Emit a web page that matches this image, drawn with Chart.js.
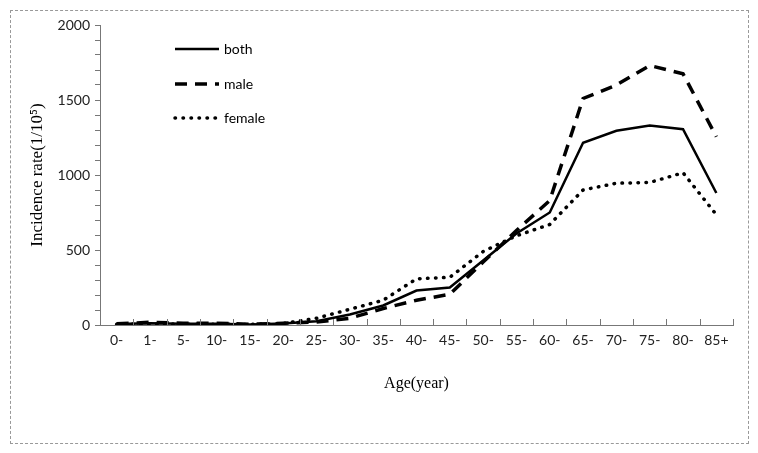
<!DOCTYPE html>
<html>
<head>
<meta charset="utf-8">
<script src="https://cdn.jsdelivr.net/npm/chart.js@4.4.1/dist/chart.umd.min.js"></script>
<style>
  body { margin: 0; background: #fff; }
  #frame { position: absolute; left: 10px; top: 10px; width: 737px; height: 432px; border: 1px dashed #999; }
  #wrap { position: absolute; left: 0; top: 0; width: 758px; height: 453px; }
</style>
</head>
<body>
<div id="frame"></div>
<div id="wrap"><canvas id="myChart" width="758" height="453"></canvas></div>
<script>
// age groups along the x axis
const ageGroups = ['0-', '1-', '5-', '10-', '15-', '20-', '25-', '30-', '35-', '40-', '45-', '50-', '55-', '60-', '65-', '70-', '75-', '80-', '85+'];

// incidence rate per 100 000
const bothRates = [6, 12, 8, 8, 4, 10, 25, 70, 130, 230, 250, 430, 610, 750, 1215, 1295, 1330, 1305, 880];
const maleRates = [8, 18, 12, 12, 5, 12, 20, 45, 110, 165, 205, 420, 630, 830, 1510, 1600, 1730, 1675, 1255];
const femaleRates = [5, 8, 5, 5, 4, 10, 45, 105, 165, 308, 318, 490, 595, 670, 900, 945, 950, 1015, 735];

const seriesNames = ['both', 'male', 'female'];

const tickFont = { family: 'Lato, "Liberation Sans", sans-serif', size: 14 };
const serif = '"Liberation Serif", "Times New Roman", serif';

// x ticks point up into the plot, at the category boundaries
const innerTicks = {
  id: 'innerTicks',
  afterDraw(chart) {
    const x = chart.scales.x;
    const ctx = chart.ctx;
    const step = x.getPixelForValue(1) - x.getPixelForValue(0);
    ctx.save();
    ctx.strokeStyle = '#777';
    ctx.lineWidth = 1;
    for (let i = 1; i <= ageGroups.length; i++) {
      const px = Math.round(x.getPixelForValue(0) - step / 2 + i * step) + 0.5;
      ctx.beginPath();
      ctx.moveTo(px, x.top);
      ctx.lineTo(px, x.top - 6);
      ctx.stroke();
    }
    ctx.restore();
  }
};

// legend drawn inside the plot, stacked vertically
const insideLegend = {
  id: 'insideLegend',
  afterDraw(chart) {
    const ctx = chart.ctx;
    const rows = [49, 84, 118];
    ctx.save();
    chart.data.datasets.forEach((ds, i) => {
      const y = rows[i];
      ctx.strokeStyle = '#000';
      ctx.lineWidth = ds.borderWidth;
      ctx.lineCap = ds.borderCapStyle || 'butt';
      ctx.setLineDash(ds.borderDash || []);
      ctx.beginPath();
      ctx.moveTo(175, y);
      ctx.lineTo(219, y);
      ctx.stroke();
      ctx.setLineDash([]);
      ctx.fillStyle = '#000';
      ctx.font = '14px ' + tickFont.family;
      ctx.textBaseline = 'middle';
      ctx.fillText(ds.label, 224, y);
    });
    ctx.restore();
  }
};

const ctx = document.getElementById('myChart').getContext('2d');
const myChart = new Chart(ctx, {
  type: 'line',
  data: {
    labels: ageGroups,
    datasets: [
      { label: seriesNames[0], data: bothRates, borderColor: '#000', borderWidth: 2.5, pointRadius: 0, tension: 0 },
      { label: seriesNames[1], data: maleRates, borderColor: '#000', borderWidth: 3.5, borderDash: [12, 8], pointRadius: 0, tension: 0 },
      { label: seriesNames[2], data: femaleRates, borderColor: '#000', borderWidth: 3.5, borderDash: [0.5, 7.5], borderCapStyle: 'round', pointRadius: 0, tension: 0 }
    ]
  },
  options: {
    responsive: false,
    animation: false,
    layout: { padding: { top: 25, right: 25, left: 0, bottom: 0 } },
    plugins: {
      legend: { display: false },
      tooltip: { enabled: false }
    },
    scales: {
      x: {
        offset: true,
        grid: { display: true, drawOnChartArea: false, drawTicks: false, offset: true },
        border: { display: true, color: '#777', width: 1 },
        ticks: { color: '#222', font: tickFont, padding: 7, maxRotation: 0, autoSkip: false },
        title: { display: true, text: 'Age(year)', color: '#000', font: { family: serif, size: 16 }, padding: { top: 0, bottom: 60 } },
        afterFit(scale) { scale.height = 128; }
      },
      y: {
        min: 0,
        max: 2000,
        grid: { drawOnChartArea: false, tickLength: 5, color: '#777' },
        border: { display: true, color: '#777', width: 1 },
        ticks: {
          stepSize: 100,
          autoSkip: false,
          color: '#222',
          font: tickFont,
          padding: 5,
          callback: (v) => (v % 500 === 0 ? v : '')
        },
        title: { display: true, text: 'Incidence rate(1/10\u2075)', color: '#000', font: { family: serif, size: 17 }, padding: { top: 27, bottom: 0 } },
        afterFit(scale) { scale.width = 100; }
      }
    }
  },
  plugins: [innerTicks, insideLegend]
});
</script>
</body>
</html>
